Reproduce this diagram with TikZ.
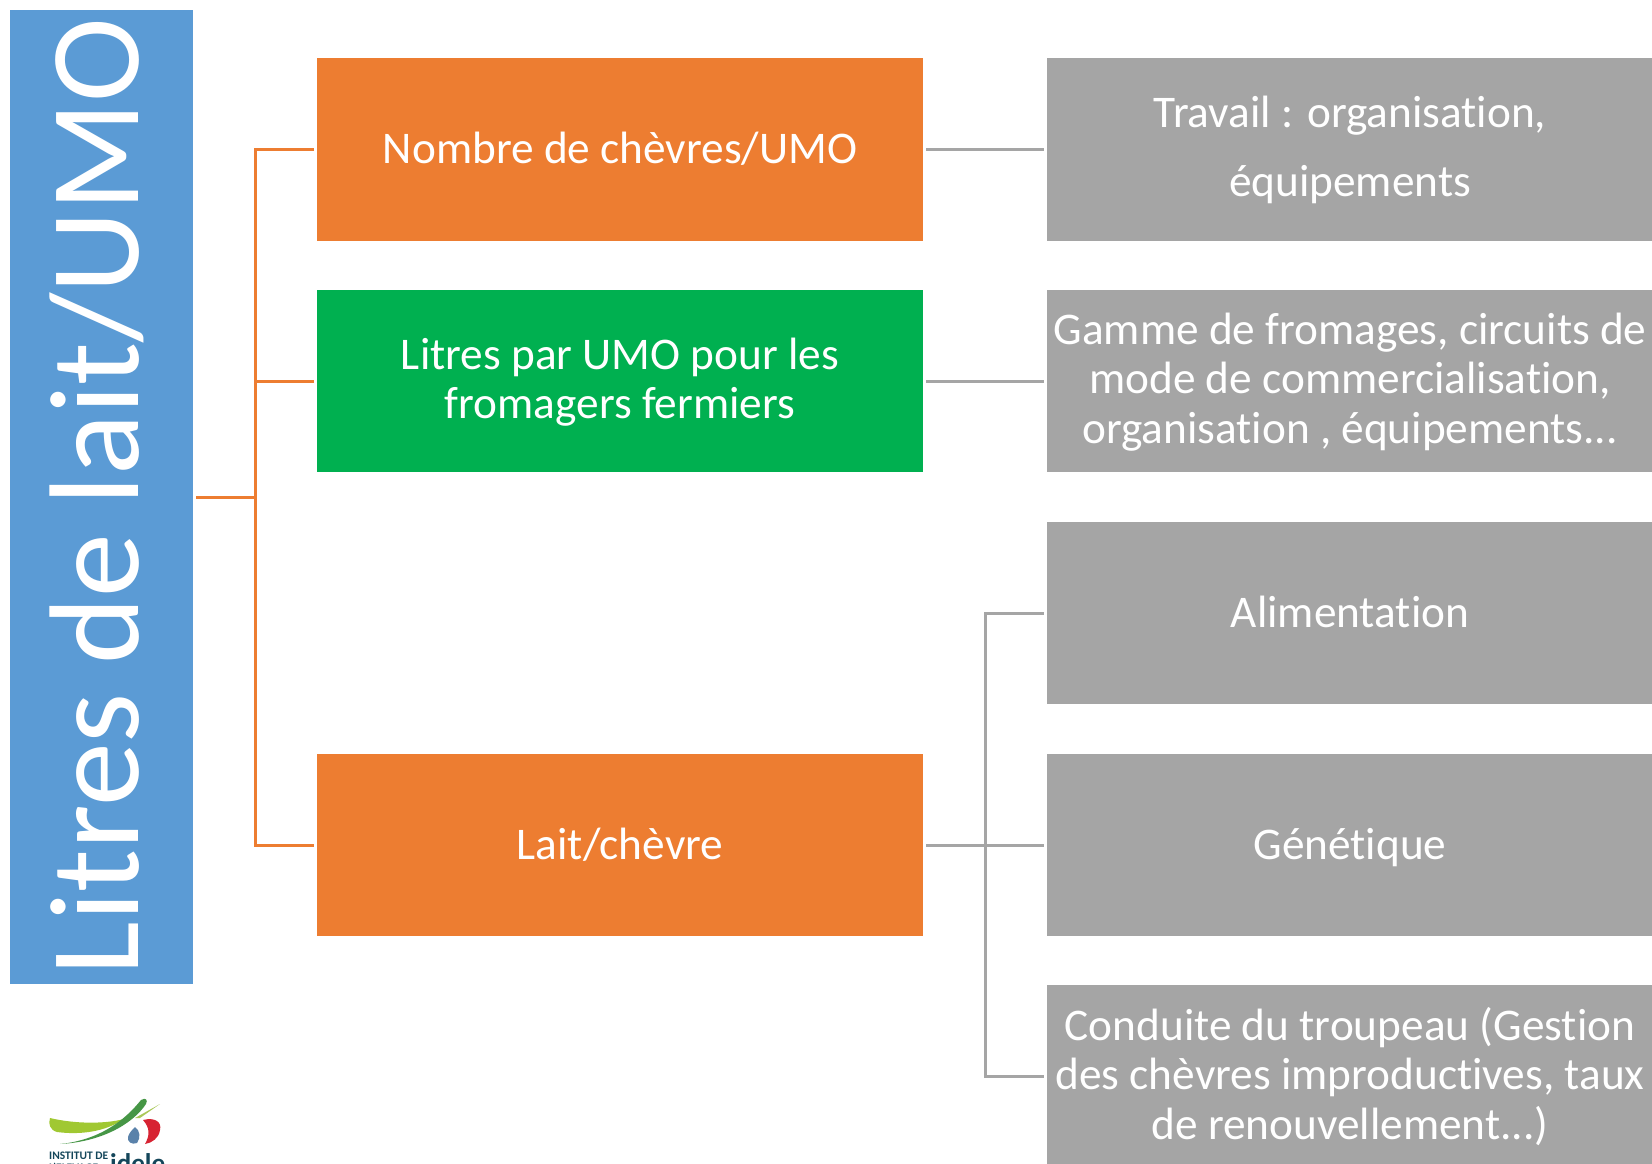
\documentclass[tikz,border=0pt]{standalone}
\usepackage{fontspec}
\setmainfont{Carlito}[Ligatures=NoCommon]
\definecolor{cblue}{HTML}{5B9BD5}
\definecolor{corange}{HTML}{ED7D31}
\definecolor{cgreen}{HTML}{00B050}
\definecolor{cgray}{HTML}{A5A5A5}
\definecolor{logogreen}{RGB}{160,200,50}
\definecolor{logodark}{RGB}{70,150,70}
\definecolor{logopale}{RGB}{170,200,90}
\definecolor{logored}{RGB}{215,35,50}
\definecolor{logoblue}{RGB}{90,130,170}
\definecolor{logotext}{RGB}{20,70,90}
\tikzset{
  box/.style={anchor=center,minimum width=606pt,minimum height=182.5pt,inner sep=0pt,outer sep=3pt,
     text=white,align=center,font=\fontsize{45.3}{49.5}\selectfont},
  orangebox/.style={box,fill=corange},
  greenbox/.style={box,fill=cgreen},
  graybox/.style={box,fill=cgray},
  oneline/.style={text height=28pt,text depth=0pt},
  olink/.style={draw=corange,line width=3pt},
  glink/.style={draw=cgray,line width=3pt}
}
\begin{document}
\begin{tikzpicture}[x=1pt,y=-1pt]
\useasboundingbox (0,0) rectangle (1652,1164);
\clip (0,0) rectangle (1652,1164);
\node[fill=cblue,minimum width=183pt,minimum height=973pt,inner sep=0pt,outer sep=3pt] (root) at (101.5,497) {};
\node[rotate=90,text=white,inner sep=0pt,font=\fontsize{127.7}{127.7}\selectfont] (title) at (96.5,496.5) {Litres de lait/UMO};
\node[orangebox,oneline] (a) at (620,149.5) {Nombre de chèvres/UMO};
\node[greenbox,text height=75pt,text depth=0pt] (b) at (620,381) {Litres par UMO pour les\\fromagers fermiers};
\node[orangebox,oneline] (c) at (620,845) {Lait/chèvre};
\node[graybox,font=\fontsize{45.3}{69}\selectfont] (d) at (1350,149.5) {Travail : organisation,\\équipements};
\node[graybox,text height=124pt,text depth=0pt] (e) at (1350,381) {Gamme de fromages, circuits de\\mode de commercialisation,\\organisation , équipements...};
\node[graybox,oneline] (f) at (1350,613) {Alimentation};
\node[graybox,oneline] (g) at (1350,845) {Génétique};
\node[graybox] (h) at (1350,1076.5) {Conduite du troupeau (Gestion\\des chèvres improductives, taux\\de renouvellement...)};
\coordinate (obus) at (255,0);
\coordinate (gbus) at (985,0);
\draw[olink] (root.east) -- (obus |- root.east);
\draw[olink] (a.west) -- (obus |- a.west) -- (obus |- c.west) -- (c.west);
\draw[olink] (b.west) -- (obus |- b.west);
\draw[glink] (a.east) -- (d.west);
\draw[glink] (b.east) -- (e.west);
\draw[glink] (c.east) -- (g.west);
\draw[glink] (f.west) -- (gbus |- f.west) -- (gbus |- h.west) -- (h.west);
% logo
\fill[logogreen] (50,1118) .. controls (75,1124) and (105,1124) .. (124,1119) .. controls (105,1132) and (80,1135) .. (57,1132) .. controls (50,1130) and (48,1124) .. (50,1118) -- cycle;
\fill[logodark] (60,1144) .. controls (100,1140) and (125,1120) .. (141,1100) .. controls (146,1097) and (148,1100) .. (146,1104) .. controls (132,1125) and (100,1142) .. (60,1144) -- cycle;
\fill[logopale] (135,1118) -- (160,1104) -- (140,1118) -- cycle;
\fill[logored] (143,1120) .. controls (155,1117) and (162,1122) .. (160,1130) .. controls (159,1138) and (152,1143) .. (145,1144) .. controls (150,1135) and (150,1128) .. (143,1120) -- cycle;
\fill[logoblue] (135,1127) .. controls (140,1130) and (141,1138) .. (137,1143) .. controls (132,1145) and (127,1142) .. (128,1137) .. controls (129,1133) and (132,1130) .. (135,1127) -- cycle;
\node[anchor=base west,inner sep=0pt,text=logotext,font=\fontsize{11.5}{12}\selectfont\bfseries] (logoa) at (49,1159) {INSTITUT DE};
\node[anchor=base west,inner sep=0pt,text=logotext,font=\fontsize{11.5}{12}\selectfont\bfseries] (logob) at (49,1171) {L'ELEVAGE};
\node[anchor=base west,inner sep=0pt,text=logotext,font=\fontsize{27}{27}\selectfont\bfseries] (logoc) at (110,1172) {idele};
\end{tikzpicture}
\end{document}
